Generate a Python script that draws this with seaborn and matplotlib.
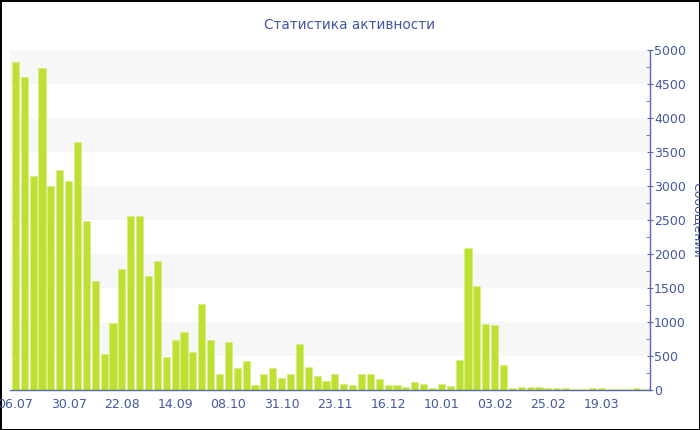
import matplotlib
matplotlib.use("Agg")
import matplotlib.pyplot as plt
import seaborn as sns
import pandas as pd
from matplotlib.ticker import MultipleLocator

# message counts per period
messages = [
    4830, 4600, 3140, 4740, 3000, 3240, 3080, 3640, 2490, 1600,
    530, 980, 1780, 2560, 2560, 1680, 1890, 480, 740, 860,
    560, 1260, 730, 230, 700, 320, 420, 80, 230, 330,
    180, 240, 670, 340, 200, 130, 230, 90, 70, 240,
    235, 160, 80, 75, 50, 120, 85, 35, 90, 65,
    440, 2090, 1530, 970, 950, 370, 35, 50, 40, 50,
    25, 25, 35, 22, 22, 30, 25, 22, 22, 22,
    35, 22,
]
tick_labels = ['06.07', '30.07', '22.08', '14.09', '08.10', '31.10',
               '23.11', '16.12', '10.01', '03.02', '25.02', '19.03']

df = pd.DataFrame({'period': range(len(messages)), 'count': messages})

sns.set_style('white')
plt.rcParams['font.family'] = ['DejaVu Sans']

blue = '#4358a0'
spine_blue = '#5a6aa8'

fig = plt.figure(figsize=(7, 4.3), dpi=100)
fig.patch.set_edgecolor('black')
fig.patch.set_linewidth(2)
ax = fig.add_axes([10 / 700, 40 / 430, 640 / 700, 340 / 430])

# alternating horizontal bands
for lo in range(500, 5000, 1000):
    ax.axhspan(lo, lo + 500, color='#f7f7f7', zorder=0, linewidth=0)

sns.barplot(data=df, x='period', y='count', color='#bde032',
            edgecolor='#d6ee80', linewidth=0.5, width=0.8,
            saturation=1, ax=ax, zorder=2)

ax.set_xlim(-0.6, len(messages) - 0.5)
ax.set_ylim(0, 5000)
ax.set_xticks(range(0, len(messages), 6))
ax.set_xticklabels(tick_labels)
ax.yaxis.set_major_locator(MultipleLocator(500))
ax.yaxis.set_minor_locator(MultipleLocator(250))
ax.yaxis.tick_right()
ax.set_xlabel('')
ax.set_ylabel('')

for s in ['top', 'left']:
    ax.spines[s].set_visible(False)
for s in ['right', 'bottom']:
    ax.spines[s].set_color(spine_blue)
    ax.spines[s].set_linewidth(1)

ax.tick_params(axis='x', colors=spine_blue, labelcolor=blue, labelsize=9,
               length=4, direction='out', pad=2)
ax.tick_params(axis='y', which='major', colors=spine_blue, labelcolor=blue,
               labelsize=9, length=4, direction='inout', pad=1)
ax.tick_params(axis='y', which='minor', colors=spine_blue, length=3,
               direction='in', right=True, left=False)
ax.grid(False)

fig.text(349 / 700, 1 - 25 / 430, 'Статистика активности', ha='center',
         va='center', color=blue, fontsize=9.8)
fig.text(697 / 700, 1 - 220 / 430, 'Сообщений', ha='center', va='center',
         rotation=-90, color=blue, fontsize=9)

fig.savefig('out.png', dpi=100, edgecolor=fig.get_edgecolor())
